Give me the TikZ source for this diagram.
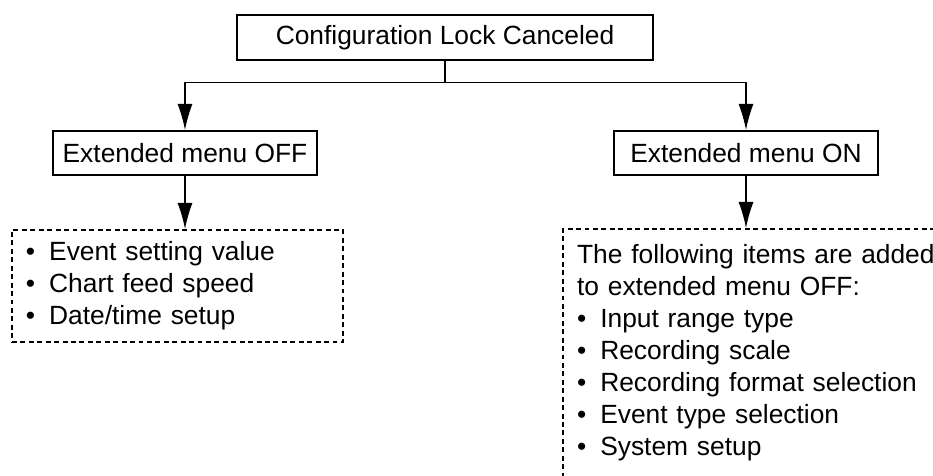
\documentclass[tikz,border=0pt]{standalone}
\usepackage{fontspec}
\setmainfont{Liberation Sans}
\usetikzlibrary{positioning, arrows.meta}

\newcommand{\itm}{\makebox[0.88em][l]{•}}

\begin{document}
\begin{tikzpicture}[
  box/.style={draw, line width=1.25pt, minimum height=0.88cm, inner sep=0pt,
              font=\fontsize{15}{18.2}\selectfont},
  list/.style={draw, line width=1.25pt, dash pattern=on 2.8pt off 2pt,
               align=left, inner xsep=0.28cm, inner ysep=0.3cm,
               font=\fontsize{15}{18.2}\selectfont},
  link/.style={line width=0.6pt},
  arr/.style={link, -{Latex[length=0.52cm, width=0.3cm]}},
]
  \useasboundingbox (0,0) rectangle (18.66,9.5);
  \clip (0,0) rectangle (18.66,9.5);

  % Top box
  \node[box, minimum width=8.32cm, minimum height=0.9cm] (lock) at (8.9,8.75) {Configuration Lock Canceled};
  \coordinate (split) at (8.9,7.85);

  % Extended menu boxes
  \node[box, minimum width=5.28cm] (off) at (3.7,6.44) {Extended menu OFF};
  \node[box, minimum width=5.28cm] (on) at (14.92,6.44) {Extended menu ON};

  % Item lists
  \node[list, text width=6.06cm, inner ysep=0.15cm, minimum height=2.24cm] (offlist) at (3.55,3.78) {
    \itm Event setting value\\
    \itm Chart feed speed\\
    \itm Date/time setup
  };
  \node[list, text width=7.6cm, text depth=6cm, anchor=north west] (onlist) at (11.24,4.94) {
    The following items are added\\
    to extended menu OFF:\\
    \itm Input range type\\
    \itm Recording scale\\
    \itm Recording format selection\\
    \itm Event type selection\\
    \itm System setup
  };

  % Connectors
  \draw[link] (lock) -- (split);
  \draw[arr] (split) -| (off);
  \draw[arr] (split) -| (on);
  \draw[arr] (off) -- (off.south |- offlist.north);
  \draw[arr] (on) -- (on.south |- onlist.north);
\end{tikzpicture}
\end{document}
